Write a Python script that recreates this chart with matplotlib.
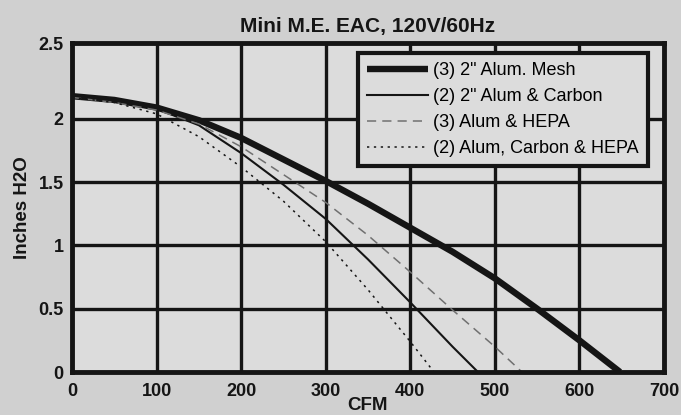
import matplotlib
matplotlib.use("Agg")
import matplotlib.pyplot as plt

plt.rcParams['font.family'] = ['Liberation Sans', 'DejaVu Sans']

title = "Mini M.E. EAC, 120V/60Hz"
x_label = "CFM"
y_label = "Inches H2O"

series_names = ['(3) 2" Alum. Mesh', '(2) 2" Alum & Carbon', '(3) Alum & HEPA', '(2) Alum, Carbon & HEPA']

mesh_x = [0, 50, 100, 150, 200, 250, 300, 350, 400, 450, 500, 550, 600, 648]
mesh_y = [2.18, 2.15, 2.09, 1.99, 1.85, 1.68, 1.51, 1.33, 1.14, 0.95, 0.74, 0.50, 0.25, 0.0]

carbon_x = [0, 50, 100, 150, 200, 250, 300, 350, 400, 450, 480]
carbon_y = [2.17, 2.14, 2.08, 1.95, 1.73, 1.48, 1.21, 0.89, 0.55, 0.20, 0.0]

hepa_x = [0, 50, 100, 150, 200, 250, 300, 350, 400, 450, 500, 532]
hepa_y = [2.17, 2.13, 2.07, 1.96, 1.78, 1.56, 1.34, 1.08, 0.79, 0.49, 0.20, 0.0]

all_x = [0, 50, 100, 150, 200, 250, 300, 350, 400, 428]
all_y = [2.17, 2.13, 2.04, 1.86, 1.62, 1.35, 1.03, 0.65, 0.24, 0.0]

x_ticks = [0, 100, 200, 300, 400, 500, 600, 700]
x_tick_labels = ['0', '100', '200', '300', '400', '500', '600', '700']
y_ticks = [0, 0.5, 1.0, 1.5, 2.0, 2.6]
y_tick_labels = ['0', '0.5', '1', '1.5', '2', '2.5']

fig = plt.figure(figsize=(6.81, 4.15), dpi=100, facecolor='#d0d0d0')
ax = fig.add_axes([72/681, 1-372/415, 592/681, 329/415])
ax.set_facecolor('#dcdcdc')

ax.set_xlim(0, 700)
ax.set_ylim(0, 2.6)

for v in x_ticks[1:-1]:
    ax.axvline(v, color='#151515', lw=2.4, zorder=1)
for v in y_ticks[1:-1]:
    ax.axhline(v, color='#151515', lw=2.4, zorder=1)

ax.plot(mesh_x, mesh_y, color='#151515', lw=4.6, solid_capstyle='butt', label=series_names[0], zorder=3)
ax.plot(carbon_x, carbon_y, color='#151515', lw=1.5, label=series_names[1], zorder=3)
ax.plot(hepa_x, hepa_y, color='#707070', lw=1.1, dashes=(6, 4), label=series_names[2], zorder=3)
ax.plot(all_x, all_y, color='#151515', lw=1.1, dashes=(1.5, 3), label=series_names[3], zorder=3)

ax.set_xticks(x_ticks)
ax.set_xticklabels(x_tick_labels, fontsize=13, fontweight='bold', color='#151515')
ax.set_yticks(y_ticks)
ax.set_yticklabels(y_tick_labels, fontsize=13, fontweight='bold', color='#151515')
ax.tick_params(axis='both', length=0)
ax.tick_params(axis='x', pad=8)
ax.tick_params(axis='y', pad=6)

for s in ax.spines.values():
    s.set_linewidth(3.5)
    s.set_color('#151515')
    s.set_zorder(4)

ax.set_title(title, fontsize=15, fontweight='bold', color='#151515', pad=8)
ax.set_xlabel(x_label, fontsize=13.5, fontweight='bold', color='#151515', labelpad=-2)
ax.set_ylabel(y_label, fontsize=13.5, fontweight='bold', color='#151515', labelpad=5)

leg = ax.legend(loc='upper right', bbox_to_anchor=(0.973, 0.97), borderaxespad=0,
                fontsize=13, handlelength=3.4, labelspacing=0.5, borderpad=0.5,
                handletextpad=0.3, fancybox=False, framealpha=1.0,
                facecolor='#dcdcdc', edgecolor='#151515')
leg.get_frame().set_linewidth(3.0)
leg.set_zorder(5)

fig.savefig('out.png', dpi=100, facecolor=fig.get_facecolor())
